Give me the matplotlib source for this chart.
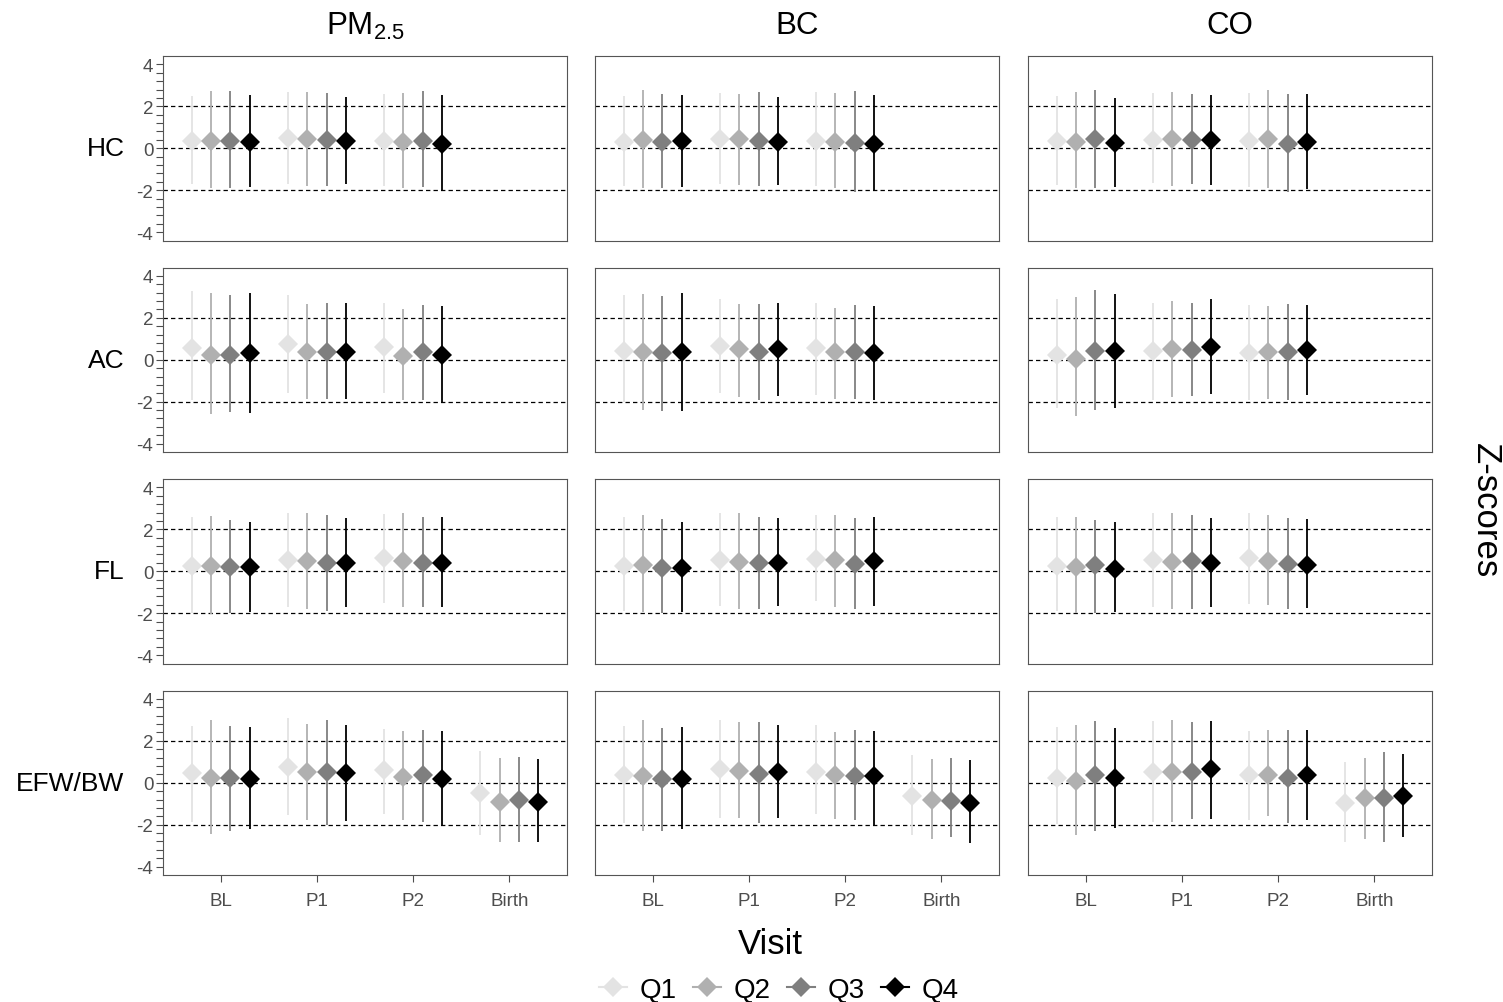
import numpy as np
import matplotlib
matplotlib.use("Agg")
import matplotlib.pyplot as plt
from matplotlib.lines import Line2D

plt.rcParams['font.family'] = ['Liberation Sans', 'DejaVu Sans']
plt.rcParams['mathtext.default'] = 'regular'

exposures = [r'PM$_{2.5}$', 'BC', 'CO']
outcomes = ['HC', 'AC', 'FL', 'EFW/BW']
visits = ['BL', 'P1', 'P2', 'Birth']
quartiles = ['Q1', 'Q2', 'Q3', 'Q4']
quartile_colors = ['#E3E3E3', '#B0B0B0', '#7F7F7F', '#000000']

# Estimates and interval bounds: [exposure][visit][quartile]
hc_est = [[[0.35, 0.35, 0.35, 0.30], [0.50, 0.45, 0.40, 0.35], [0.35, 0.30, 0.35, 0.20]],
          [[0.30, 0.40, 0.30, 0.35], [0.45, 0.45, 0.35, 0.30], [0.35, 0.30, 0.25, 0.20]],
          [[0.35, 0.30, 0.45, 0.25], [0.40, 0.45, 0.40, 0.40], [0.35, 0.45, 0.20, 0.30]]]
hc_hi = [[[2.50, 2.72, 2.75, 2.55], [2.70, 2.70, 2.65, 2.45], [2.60, 2.65, 2.75, 2.55]],
         [[2.50, 2.80, 2.60, 2.55], [2.65, 2.60, 2.70, 2.45], [2.70, 2.65, 2.75, 2.55]],
         [[2.50, 2.70, 2.80, 2.40], [2.65, 2.70, 2.60, 2.55], [2.65, 2.80, 2.60, 2.60]]]
hc_lo = [[[-1.72, -1.90, -1.90, -1.85], [-1.70, -1.80, -1.80, -1.70], [-1.80, -1.90, -1.85, -2.05]],
         [[-1.80, -1.90, -1.90, -1.85], [-1.70, -1.75, -1.80, -1.75], [-1.80, -1.90, -2.10, -2.00]],
         [[-1.75, -1.90, -1.90, -1.85], [-1.65, -1.80, -1.70, -1.75], [-1.85, -1.90, -2.10, -1.95]]]

ac_est = [[[0.55, 0.25, 0.25, 0.30], [0.73, 0.36, 0.36, 0.38], [0.60, 0.20, 0.38, 0.21]],
          [[0.40, 0.35, 0.30, 0.35], [0.65, 0.50, 0.35, 0.50], [0.55, 0.35, 0.35, 0.30]],
          [[0.25, 0.05, 0.40, 0.40], [0.40, 0.50, 0.45, 0.60], [0.30, 0.35, 0.35, 0.45]]]
ac_hi = [[[3.27, 3.17, 3.08, 3.17], [3.10, 2.65, 2.73, 2.73], [2.73, 2.44, 2.60, 2.55]],
         [[3.10, 3.15, 3.05, 3.20], [2.90, 2.65, 2.65, 2.70], [2.70, 2.45, 2.60, 2.55]],
         [[2.90, 3.00, 3.35, 3.15], [2.70, 2.80, 2.70, 2.90], [2.60, 2.55, 2.65, 2.60]]]
ac_lo = [[[-1.92, -2.60, -2.50, -2.55], [-1.60, -1.85, -1.85, -1.85], [-1.60, -1.90, -1.90, -2.05]],
         [[-2.00, -2.40, -2.45, -2.45], [-1.60, -1.80, -1.90, -1.75], [-1.70, -1.85, -1.85, -1.90]],
         [[-2.30, -2.70, -2.40, -2.30], [-1.90, -1.80, -1.75, -1.65], [-1.90, -1.85, -1.90, -1.70]]]

fl_est = [[[0.25, 0.25, 0.20, 0.20], [0.55, 0.50, 0.40, 0.40], [0.65, 0.50, 0.40, 0.40]],
          [[0.25, 0.30, 0.15, 0.15], [0.55, 0.45, 0.40, 0.40], [0.60, 0.55, 0.35, 0.50]],
          [[0.25, 0.20, 0.30, 0.10], [0.55, 0.45, 0.50, 0.40], [0.65, 0.50, 0.35, 0.30]]]
fl_hi = [[[2.60, 2.65, 2.45, 2.35], [2.80, 2.80, 2.70, 2.55], [2.75, 2.80, 2.60, 2.60]],
         [[2.60, 2.70, 2.50, 2.35], [2.80, 2.80, 2.60, 2.55], [2.70, 2.70, 2.55, 2.60]],
         [[2.60, 2.60, 2.45, 2.35], [2.80, 2.80, 2.70, 2.55], [2.80, 2.70, 2.55, 2.50]]]
fl_lo = [[[-2.00, -2.05, -2.00, -1.95], [-1.70, -1.80, -1.90, -1.70], [-1.50, -1.70, -1.70, -1.70]],
         [[-1.90, -1.95, -2.00, -1.95], [-1.65, -1.80, -1.80, -1.65], [-1.40, -1.70, -1.80, -1.65]],
         [[-1.90, -2.00, -2.00, -1.95], [-1.70, -1.80, -1.80, -1.70], [-1.55, -1.60, -1.80, -1.75]]]

efw_est = [[[0.45, 0.24, 0.24, 0.20], [0.73, 0.50, 0.50, 0.45], [0.60, 0.29, 0.36, 0.20], [-0.51, -0.91, -0.84, -0.91]],
           [[0.35, 0.30, 0.20, 0.20], [0.65, 0.55, 0.40, 0.50], [0.50, 0.35, 0.30, 0.30], [-0.65, -0.80, -0.85, -0.95]],
           [[0.24, 0.08, 0.37, 0.21], [0.53, 0.53, 0.53, 0.64], [0.37, 0.37, 0.21, 0.37], [-0.96, -0.75, -0.75, -0.62]]]
efw_hi = [[[2.70, 2.98, 2.70, 2.65], [3.10, 2.80, 2.98, 2.77], [2.56, 2.45, 2.53, 2.48], [1.50, 1.17, 1.22, 1.12]],
          [[2.70, 3.00, 2.60, 2.65], [3.00, 2.90, 2.90, 2.75], [2.75, 2.40, 2.50, 2.45], [1.30, 1.15, 1.20, 1.10]],
          [[2.66, 2.77, 2.96, 2.61], [2.96, 3.00, 2.88, 2.93], [2.45, 2.50, 2.50, 2.50], [1.01, 1.20, 1.46, 1.38]]]
efw_lo = [[[-1.88, -2.45, -2.28, -2.20], [-1.56, -1.77, -2.00, -1.83], [-1.48, -1.77, -1.88, -2.00], [-2.49, -2.84, -2.81, -2.84]],
          [[-1.90, -2.30, -2.30, -2.20], [-1.70, -1.70, -1.90, -1.70], [-1.50, -1.75, -1.80, -2.00], [-2.50, -2.70, -2.60, -2.85]],
          [[-1.99, -2.49, -2.28, -2.16], [-1.88, -1.85, -1.72, -1.72], [-1.80, -1.60, -1.93, -1.77], [-2.84, -2.68, -2.84, -2.60]]]

panel_data = [(hc_est, hc_lo, hc_hi), (ac_est, ac_lo, ac_hi),
              (fl_est, fl_lo, fl_hi), (efw_est, efw_lo, efw_hi)]

W, H = 1503, 1003
fig = plt.figure(figsize=(W / 100, H / 100), dpi=100)

col_left = [163, 595, 1028]
panel_w = 404
row_top = [57, 268.5, 480, 691.5]
panel_h = 184.5
dodge = [-0.3, -0.1, 0.1, 0.3]
frame_col = '#555555'
tick_col = '#4D4D4D'

for r, outcome in enumerate(outcomes):
    est_all, lo_all, hi_all = panel_data[r]
    for c, exposure in enumerate(exposures):
        ax = fig.add_axes([col_left[c] / W, 1 - (row_top[r] + panel_h) / H,
                           panel_w / W, panel_h / H])
        ax.set_xlim(0.4, 4.6)
        ax.set_ylim(-4.4, 4.4)
        for yref in (-2, 0, 2):
            ax.axhline(yref, color='black', lw=0.9, ls=(0, (3.5, 2.5)), zorder=1)
        est = est_all[c]
        lo = lo_all[c]
        hi = hi_all[c]
        for v in range(len(est)):
            for q in range(4):
                x = v + 1 + dodge[q]
                ax.plot([x, x], [lo[v][q], hi[v][q]], color=quartile_colors[q],
                        lw=1.3, solid_capstyle='butt', zorder=2 + q)
                ax.plot([x], [est[v][q]], marker='D', ms=10.3, mew=0,
                        color=quartile_colors[q], zorder=2 + q)
        for s in ax.spines.values():
            s.set_color(frame_col)
            s.set_linewidth(0.8)
        ax.set_xticks(range(1, 5))
        if r == len(outcomes) - 1:
            ax.set_xticklabels(visits, fontsize=13.5, color=tick_col)
            ax.tick_params(axis='x', length=5, width=0.8, color=tick_col, pad=7)
        else:
            ax.tick_params(axis='x', length=0, labelbottom=False)
        if c == 0:
            ax.set_yticks([-4, -2, 0, 2, 4])
            ax.set_yticklabels(['-4', '-2', '0', '2', '4'], fontsize=13.5, color=tick_col)
            ax.set_yticks(np.round(np.arange(-4, 4.01, 0.4), 2), minor=True)
            ax.tick_params(axis='y', which='both', length=5, width=0.8,
                           color=tick_col, pad=2)
            ax.set_ylabel(outcome, rotation=0, fontsize=19, color='black',
                          ha='right', va='center')
            ax.yaxis.set_label_coords(-0.095, 0.5)
        else:
            ax.tick_params(axis='y', which='both', length=0, labelleft=False)
            ax.set_yticks([])
        if r == 0:
            ax.text(0.5, 1 - (26 - row_top[0]) / panel_h, exposure,
                    transform=ax.transAxes, fontsize=22.5, ha='center', va='center')

fig.text(770 / W, 1 - 945 / H, 'Visit', fontsize=25, ha='center', va='center')
fig.text(1485 / W, 1 - 511 / H, 'Z-scores', fontsize=25, rotation=-90,
         ha='center', va='center')

handles = [Line2D([0], [0], color=col, marker='D', ms=10, mew=0, lw=1.5)
           for col in quartile_colors]
fig.legend(handles, quartiles, loc='center', bbox_to_anchor=(779 / W, 1 - 991 / H),
           ncol=4, frameon=False, fontsize=20, handlelength=1.0, handletextpad=0.45,
           columnspacing=0.6, borderaxespad=0, borderpad=0)

fig.savefig('out.png', dpi=100)
